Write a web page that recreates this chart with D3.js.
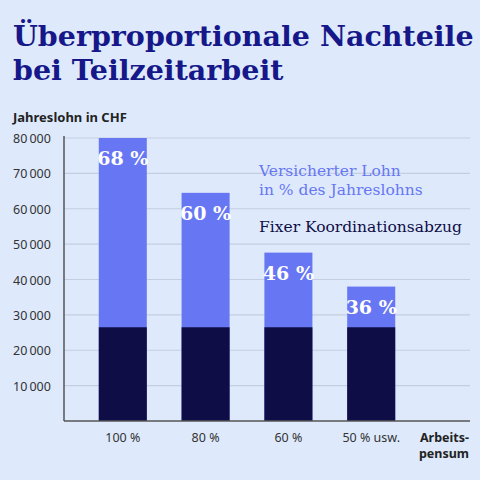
<!DOCTYPE html>
<html><head><meta charset="utf-8">
<script src="https://cdn.jsdelivr.net/npm/d3@7"></script>
<style>
body{margin:0;background:#deeafc;}
svg{display:block;}
</style></head>
<body><svg id="chart" width="480" height="480"></svg>
<script>
const categories = ['100 %', '80 %', '60 %', '50 % usw.'];
const totals = [80000, 64500, 47600, 38000];
const koordination = [26500, 26500, 26500, 26500];
const shares = ['68 %', '60 %', '46 %', '36 %'];
const yTicks = [10000, 20000, 30000, 40000, 50000, 60000, 70000, 80000];

const svg = d3.select('#chart');
const serif = 'Georgia, "DejaVu Serif", serif';
const sans = '"Source Sans Pro", "Noto Sans", sans-serif';

svg.append('rect').attr('width', 480).attr('height', 480).attr('fill', '#deeafc');

/* ── Title ── */
const title = svg.append('text').attr('x', 13).attr('fill', '#16188a')
  .attr('font-family', serif).attr('font-weight', 'bold').attr('font-size', 28.5);
title.append('tspan').attr('x', 13).attr('y', 46).text('Überproportionale Nachteile');
title.append('tspan').attr('x', 13).attr('y', 80).text('bei Teilzeitarbeit');

svg.append('text').attr('x', 13).attr('y', 122).text('Jahreslohn in CHF')
  .attr('font-family', sans).attr('font-weight', 'bold').attr('font-size', 13).attr('fill', '#222');

/* ── Scales ── */
const y = d3.scaleLinear().domain([0, 80000]).range([421, 138]);
const x = d3.scaleBand().domain(categories).range([64, 430]).paddingInner(0.42).paddingOuter(0.42);

const fmt = d => d3.format(',')(d).replace(',', '\u2009');

svg.append('g').selectAll('line').data(yTicks).join('line')
  .attr('x1', 64).attr('x2', 470).attr('y1', d => y(d)).attr('y2', d => y(d))
  .attr('stroke', '#c3cfe0').attr('stroke-width', 1.2);

svg.append('g').selectAll('text').data(yTicks).join('text')
  .attr('x', 13).attr('y', d => y(d) + 5).text(fmt)
  .attr('font-family', sans).attr('font-size', 12.5).attr('fill', '#333');

/* ── Bars ── */
svg.append('g').selectAll('rect').data(totals).join('rect')
  .attr('x', (d, i) => x(categories[i])).attr('width', x.bandwidth())
  .attr('y', d => y(d)).attr('height', d => y(0) - y(d)).attr('fill', '#6776f3');

svg.append('g').selectAll('rect').data(koordination).join('rect')
  .attr('x', (d, i) => x(categories[i])).attr('width', x.bandwidth())
  .attr('y', d => y(d)).attr('height', d => y(0) - y(d)).attr('fill', '#0e0d46');

svg.append('g').selectAll('text').data(shares).join('text')
  .attr('x', (d, i) => x(categories[i]) + x.bandwidth() / 2)
  .attr('y', (d, i) => y(totals[i]) + 27).attr('text-anchor', 'middle').text(d => d)
  .attr('font-family', serif).attr('font-weight', 'bold').attr('font-size', 19).attr('fill', '#fff');

/* ── Axes ── */
svg.append('line').attr('x1', 64).attr('x2', 64).attr('y1', 136).attr('y2', 421)
  .attr('stroke', '#555').attr('stroke-width', 1.5);
svg.append('line').attr('x1', 64).attr('x2', 470).attr('y1', 421).attr('y2', 421)
  .attr('stroke', '#555').attr('stroke-width', 1.5);

svg.append('g').selectAll('text').data(categories).join('text')
  .attr('x', d => x(d) + x.bandwidth() / 2).attr('y', 442).attr('text-anchor', 'middle').text(d => d)
  .attr('font-family', sans).attr('font-size', 12.5).attr('fill', '#333');

const ax = svg.append('text').attr('font-family', sans).attr('font-weight', 'bold')
  .attr('font-size', 12.5).attr('fill', '#222').attr('text-anchor', 'end');
ax.append('tspan').attr('x', 469).attr('y', 442).text('Arbeits-');
ax.append('tspan').attr('x', 469).attr('y', 458).text('pensum');

/* ── Legend labels ── */
const leg = svg.append('text').attr('font-family', serif).attr('font-size', 15.5).attr('fill', '#6776f3');
leg.append('tspan').attr('x', 259).attr('y', 176).text('Versicherter Lohn');
leg.append('tspan').attr('x', 259).attr('y', 195).text('in % des Jahreslohns');
svg.append('text').attr('x', 259).attr('y', 232).text('Fixer Koordinationsabzug')
  .attr('font-family', serif).attr('font-size', 15.5).attr('fill', '#0e0d46');
</script></body></html>
